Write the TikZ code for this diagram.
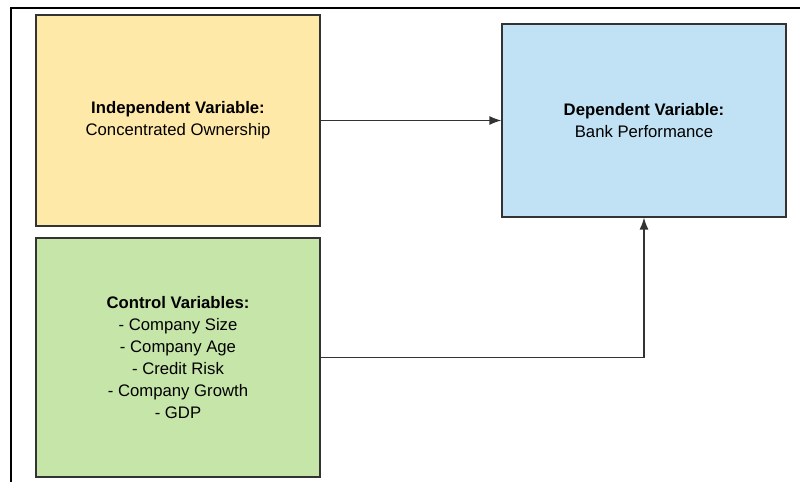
\documentclass[tikz,border=0pt]{standalone}
\usepackage{fontspec}
\setmainfont{Liberation Sans}
\usetikzlibrary{arrows.meta}

\definecolor{indepfill}{HTML}{FFE9A9}
\definecolor{ctrlfill}{HTML}{C6E5A9}
\definecolor{depfill}{HTML}{C1E2F5}
\definecolor{edgegray}{HTML}{333333}

\begin{document}
\begin{tikzpicture}[x=1pt,y=-1pt]

      \useasboundingbox (0,0) rectangle (800,482);

      % outer frame
      \draw[line width=1.6pt] (10,8) -- (800,8);
      \draw[line width=1.6pt] (11,8) -- (11,482);

      \begin{scope}[every node/.style={rectangle, draw=edgegray, line width=1.2pt, align=center,
          font=\fontsize{16.7}{22}\selectfont, minimum width=284pt}]
        \node[fill=indepfill, minimum height=211pt] (indep) at (178,120.5)
          {\textbf{Independent Variable:}\\Concentrated Ownership};
        \node[fill=ctrlfill, minimum height=239pt] (ctrl) at (178,357.5)
          {\textbf{Control Variables:}\\- Company Size\\- Company Age\\- Credit Risk\\- Company Growth\\- GDP};
        \node[fill=depfill, minimum height=193pt] (dep) at (644,120.5)
          {\textbf{Dependent Variable:}\\Bank Performance};
      \end{scope}

      \begin{scope}[every path/.style={draw=edgegray, line width=1.3pt, -{Latex[length=12pt,width=9pt]}}]
        \path (indep) -- (dep);
        \path (ctrl) -| (dep);
      \end{scope}

    \end{tikzpicture}
\end{document}
